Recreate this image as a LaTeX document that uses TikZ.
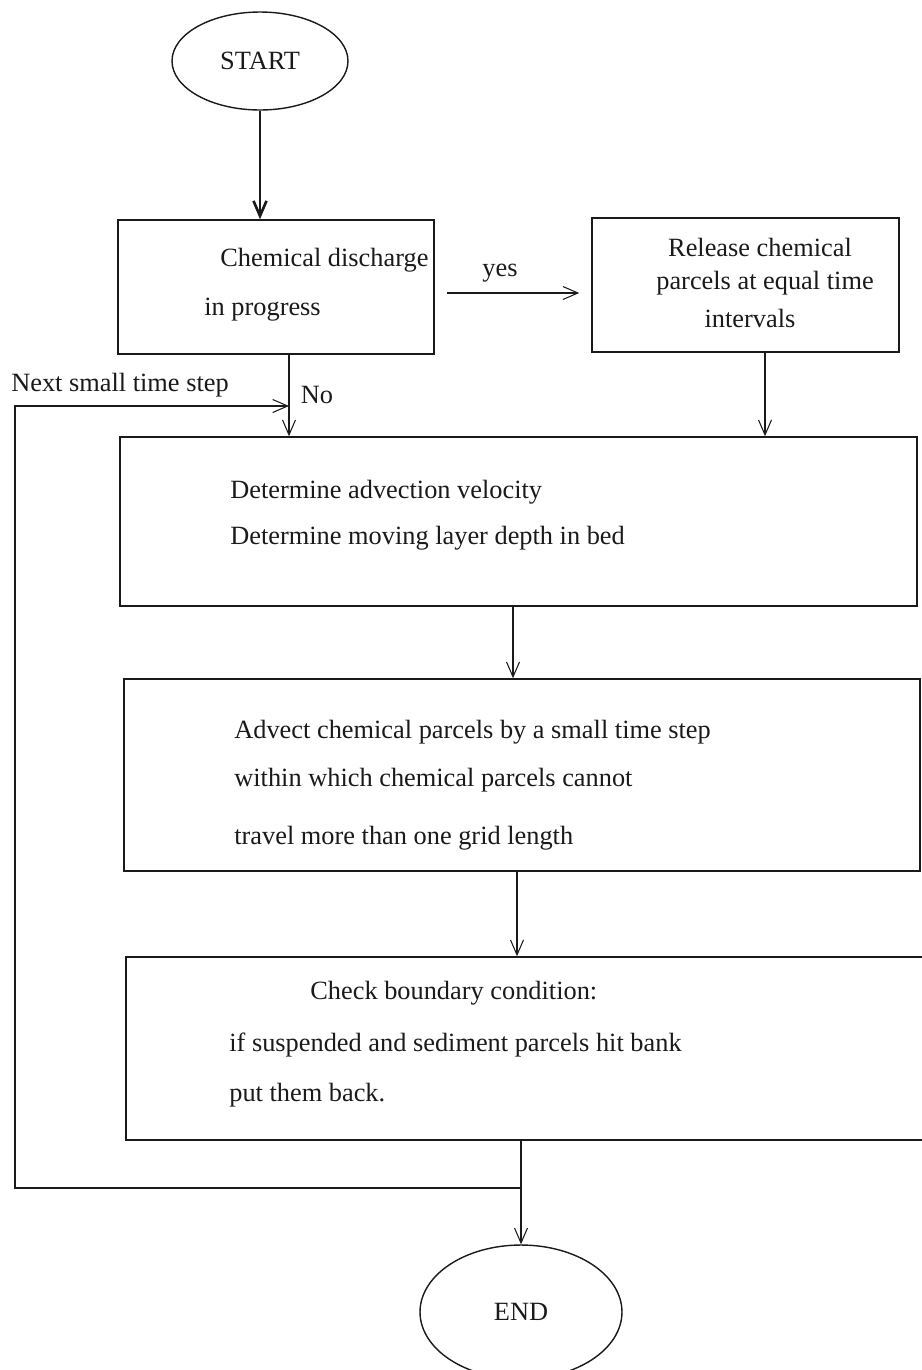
\documentclass[tikz,border=0pt]{standalone}
\usepackage{fontspec}
\setmainfont{Liberation Serif}
\usepackage{tikz}
\usetikzlibrary{arrows.meta,positioning,shapes.geometric}
\definecolor{ink}{HTML}{1A1A1A}

\begin{document}
\begin{tikzpicture}[x=0.02cm,y=-0.02cm,
  every node/.style={font=\fontsize{15}{18}\selectfont,text=ink,inner sep=0pt},
  terminal/.style={draw=ink,ellipse,line width=0.8pt},
  stepbox/.style={draw=ink,rectangle,line width=0.9pt},
  flow/.style={draw=ink,line width=0.6pt,-{Straight Barb[length=3mm,width=2.6mm]}}]
  \useasboundingbox (0,0) rectangle (922,1370);

  % Start and end ovals
  \node[terminal,minimum width=3.52cm,minimum height=1.96cm] (start) at (260,61) {START};
  \node[terminal,minimum width=4.04cm,minimum height=2.68cm] (stop) at (521,1312) {END};

  % Decision and release boxes
  \node[stepbox,minimum width=6.32cm,minimum height=2.68cm] (discharge) at (276,287) {};
  \node[stepbox,minimum width=6.14cm,minimum height=2.68cm] (release) at (745.5,285) {};
  \node[anchor=west] (dis1) at (220,260) {Chemical discharge};
  \node[anchor=west] (dis2) at (204,310) {in progress};
  \node (rel1) at (760,247) {Release chemical};
  \node (rel2) at (765,283) {parcels at equal time};
  \node (rel3) at (750,318) {intervals};

  % Wide process boxes
  \node[stepbox,minimum width=15.94cm,minimum height=3.38cm] (velocity) at (518.5,521.5) {};
  \node[stepbox,minimum width=15.92cm,minimum height=3.84cm] (advect) at (522,775) {};
  \node[stepbox,minimum width=16.28cm,minimum height=3.66cm] (boundary) at (533,1048.5) {};
  \foreach \y/\t [count=\i] in {492/Determine advection velocity,
                                538/Determine moving layer depth in bed} {
    \node[anchor=west] (vel\i) at (230,\y) {\t};
  }
  \foreach \y/\t [count=\i] in {732/Advect chemical parcels by a small time step,
                                780/within which chemical parcels cannot,
                                838/travel more than one grid length} {
    \node[anchor=west] (adv\i) at (234,\y) {\t};
  }
  \node[anchor=west] (bnd1) at (310,993) {Check boundary condition:};
  \node[anchor=west] (bnd2) at (229,1045) {if suspended and sediment parcels hit bank};
  \node[anchor=west] (bnd3) at (229,1095) {put them back.};

  % Labels on connectors
  \node (yes) at (500,273) {yes};
  \node (no) at (317,395) {No};
  \node (next) at (120,385) {Next small time step};

  % Connectors
  \draw[flow,line width=1.5pt] (start.south) -- (start.south |- discharge.north);
  \draw[flow] ([xshift=0.24cm,yshift=-0.12cm]discharge.east) -- ([xshift=-0.24cm,yshift=-0.12cm]discharge.east -| release.west);
  \draw[flow] (release.south -| 765,0) -- (velocity.north -| 765,0);
  \coordinate (loopin) at (289,406);
  \draw[flow] (discharge.south -| loopin) -- (velocity.north -| loopin);
  \draw[flow] (velocity.south -| 513,0) -- (advect.north -| 513,0);
  \draw[flow] (advect.south -| 517,0) -- (boundary.north -| 517,0);
  \draw[flow] (boundary.south -| stop.north) -- (stop.north);
  \coordinate (loopout) at (521,1188);
  \draw[flow] (loopout) -| (15,406) -- (loopin);
\end{tikzpicture}
\end{document}
